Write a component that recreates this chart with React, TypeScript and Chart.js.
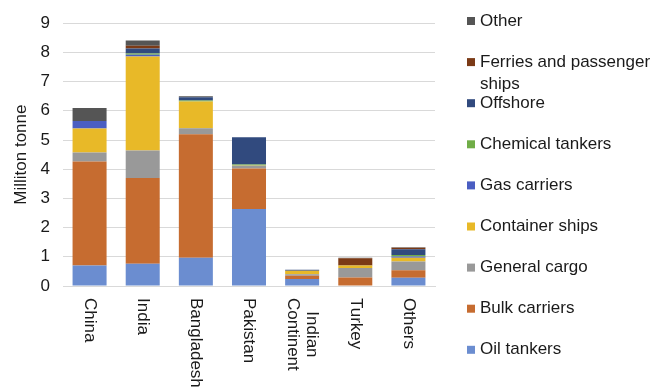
import { useEffect, useRef } from "react";
import { Chart, registerables } from "chart.js";

Chart.register(...registerables);

const categories: string[][] = [
  ["China"],
  ["India"],
  ["Bangladesh"],
  ["Pakistan"],
  ["Indian", "Continent"],
  ["Turkey"],
  ["Others"],
];

const oilTankers = [0.7, 0.76, 0.97, 2.64, 0.24, 0.02, 0.28];
const bulkCarriers = [3.56, 2.94, 4.23, 1.38, 0.11, 0.27, 0.26];
const generalCargo = [0.31, 0.94, 0.2, 0.1, 0.05, 0.33, 0.3];
const containerShips = [0.82, 3.22, 0.92, 0.01, 0.12, 0.08, 0.13];
const gasCarriers = [0.26, 0.06, 0, 0, 0, 0, 0.04];
const chemicalTankers = [0, 0.04, 0.03, 0.03, 0, 0, 0.05];
const offshore = [0, 0.17, 0.11, 0.93, 0.04, 0, 0.2];
const ferries = [0, 0.1, 0, 0, 0, 0.25, 0.05];
const other = [0.45, 0.18, 0.04, 0, 0, 0.02, 0.02];

const seriesNames = [
  "Oil tankers",
  "Bulk carriers",
  "General cargo",
  "Container ships",
  "Gas carriers",
  "Chemical tankers",
  "Offshore",
  "Ferries and passenger ships",
  "Other",
];
const seriesValues = [
  oilTankers,
  bulkCarriers,
  generalCargo,
  containerShips,
  gasCarriers,
  chemicalTankers,
  offshore,
  ferries,
  other,
];
const seriesColors = [
  "#6B8DD0",
  "#C66C30",
  "#999999",
  "#E8B928",
  "#4A5EC2",
  "#70AD47",
  "#314A7E",
  "#7B3A16",
  "#555555",
];

const yTitle = "Milliton tonne";
const FONT_FAMILY = '"Liberation Sans", Arial, sans-serif';
const TEXT_COLOR = "#1a1a1a";

function wrapText(ctx: CanvasRenderingContext2D, text: string, maxW: number): string[] {
  const words = text.split(" ");
  const lines: string[] = [];
  let cur = "";
  for (const w of words) {
    const test = cur ? cur + " " + w : w;
    if (ctx.measureText(test).width > maxW && cur) {
      lines.push(cur);
      cur = w;
    } else {
      cur = test;
    }
  }
  if (cur) lines.push(cur);
  return lines;
}

const customDraw = {
  id: "customDraw",
  afterDraw(chart: any) {
    const ctx: CanvasRenderingContext2D = chart.ctx;
    ctx.save();
    ctx.font = `17px ${FONT_FAMILY}`;
    ctx.fillStyle = TEXT_COLOR;
    ctx.textBaseline = "middle";
    ctx.textAlign = "left";

    // rotated category labels (clockwise)
    const xScale = chart.scales.x;
    const labels = chart.data.labels as string[][];
    const lh = 19;
    labels.forEach((lab, i) => {
      const x = xScale.getPixelForValue(i);
      const widths = lab.map((l) => ctx.measureText(l).width);
      const maxW = Math.max(...widths);
      ctx.save();
      ctx.translate(x, chart.chartArea.bottom + 12);
      ctx.rotate(Math.PI / 2);
      lab.forEach((l, k) => {
        const ly = (k - (lab.length - 1) / 2) * lh;
        ctx.fillText(l, (maxW - widths[k]) / 2, ly);
      });
      ctx.restore();
    });

    // legend (reverse order)
    const ds = chart.data.datasets.slice().reverse();
    const top = 21;
    const step = 41.1;
    ds.forEach((d: any, i: number) => {
      const y = top + i * step;
      ctx.fillStyle = d.backgroundColor;
      ctx.fillRect(467, y - 4, 8, 8);
      ctx.fillStyle = TEXT_COLOR;
      const lines = wrapText(ctx, d.label, 182);
      lines.forEach((ln, k) => ctx.fillText(ln, 480, y + k * 22));
    });
    ctx.restore();
  },
};

export default function App() {
  const ref = useRef<HTMLCanvasElement | null>(null);
  useEffect(() => {
    if (!ref.current) return;
    const chart = new Chart(ref.current, {
      type: "bar",
      data: {
        labels: categories,
        datasets: seriesNames.map((name, i) => ({
          label: name,
          data: seriesValues[i],
          backgroundColor: seriesColors[i],
          borderWidth: 0,
          barPercentage: 0.64,
          categoryPercentage: 1,
        })),
      },
      options: {
        animation: false,
        responsive: false,
        layout: { padding: { top: 18, right: 236, bottom: 0, left: 0 } },
        plugins: { legend: { display: false }, tooltip: { enabled: false } },
        scales: {
          x: {
            stacked: true,
            grid: { display: false },
            border: { display: true, color: "#d9d9d9" },
            ticks: { display: false },
            afterFit: (s: any) => {
              s.height = 105;
            },
          },
          y: {
            stacked: true,
            min: 0,
            max: 9,
            ticks: {
              stepSize: 1,
              padding: 13,
              color: TEXT_COLOR,
              font: { family: FONT_FAMILY, size: 17 },
            },
            grid: { color: "#d9d9d9", drawTicks: false },
            border: { display: false },
            title: {
              display: true,
              text: yTitle,
              color: TEXT_COLOR,
              font: { family: FONT_FAMILY, size: 17 },
              padding: { top: 11, bottom: 0 },
            },
            afterFit: (s: any) => {
              s.width = 63;
            },
          },
        },
      } as any,
      plugins: [customDraw],
    });
    return () => chart.destroy();
  }, []);
  return (
    <div style={{ position: "absolute", left: 0, top: 0, width: 671, height: 391 }}>
      <canvas ref={ref} width={671} height={391} style={{ display: "block" }} />
    </div>
  );
}
